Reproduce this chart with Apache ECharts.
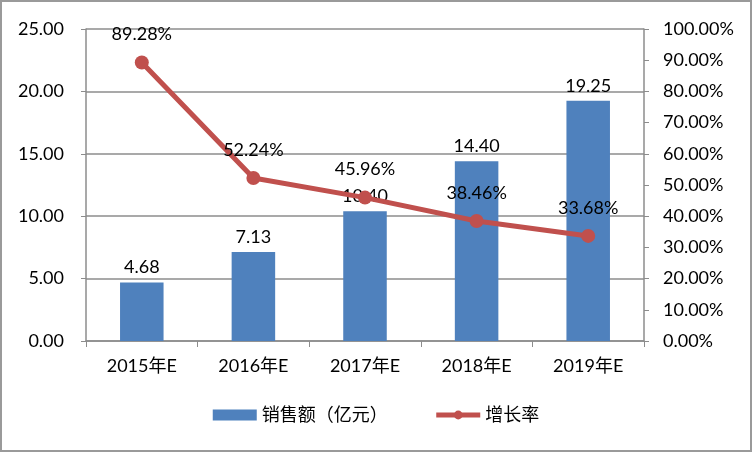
<!DOCTYPE html>
<html><head><meta charset="utf-8">
<script src="https://cdn.jsdelivr.net/npm/echarts@6/dist/echarts.min.js"></script>
<style>html,body{margin:0;padding:0;background:#fff}#c{width:752px;height:452px;box-sizing:border-box;border:2px solid #9a9a9a}</style>
</head><body><div id="c"></div>
<script>
const categories = ['2015年E','2016年E','2017年E','2018年E','2019年E'];
const sales = [4.68, 7.13, 10.40, 14.40, 19.25];
const growth = [89.28, 52.24, 45.96, 38.46, 33.68];
const salesName = '销售额（亿元）';
const growthName = '增长率';
const font = 'Lato, "Noto Sans CJK SC", sans-serif';
const chart = echarts.init(document.getElementById('c'));
chart.setOption({
  animation:false,
  textStyle:{fontFamily:font},
  grid:{left:84,right:106,top:27,bottom:109,containLabel:false},
  legend:{bottom:21,left:'center',itemGap:46,itemWidth:44,itemHeight:11,
    textStyle:{fontSize:18,color:'#000',fontFamily:font},
    lineStyle:{width:5},
    data:[{name:salesName,icon:'rect',itemStyle:{borderWidth:0}},{name:growthName}]},
  xAxis:{type:'category',data:categories,
    axisLine:{lineStyle:{color:'#8c8c8c',width:1.5}},
    axisTick:{show:true,alignWithLabel:false,length:6,lineStyle:{color:'#8c8c8c'}},
    axisLabel:{fontSize:18,color:'#000',margin:16}},
  yAxis:[{type:'value',min:0,max:25,interval:5,
    axisLine:{show:true,lineStyle:{color:'#8c8c8c',width:1.5}},
    axisTick:{show:true,length:5,inside:false,lineStyle:{color:'#8c8c8c'}},
    splitLine:{lineStyle:{color:'#8c8c8c',width:1.5}},
    axisLabel:{fontSize:18,color:'#000',margin:22,formatter:v=>v.toFixed(2)}},
   {type:'value',min:0,max:100,interval:10,position:'right',
    axisLine:{show:true,lineStyle:{color:'#8c8c8c',width:1.5}},
    axisTick:{show:true,length:5,lineStyle:{color:'#8c8c8c'}},
    splitLine:{show:false},
    axisLabel:{fontSize:18,color:'#000',margin:19,formatter:v=>v.toFixed(2)+'%'}}],
  series:[{name:salesName,type:'bar',data:sales,barWidth:'39%',
    itemStyle:{color:'#4F81BD'},
    label:{show:true,position:'top',distance:6,fontSize:18,color:'#000',formatter:p=>p.value.toFixed(2)}},
   {name:growthName,type:'line',yAxisIndex:1,data:growth,
    symbol:'circle',symbolSize:14,
    lineStyle:{color:'#C0504D',width:5},itemStyle:{color:'#C0504D'},
    label:{show:true,position:'top',distance:12,fontSize:18,color:'#000',formatter:p=>p.value.toFixed(2)+'%'}}]
});
</script></body></html>
